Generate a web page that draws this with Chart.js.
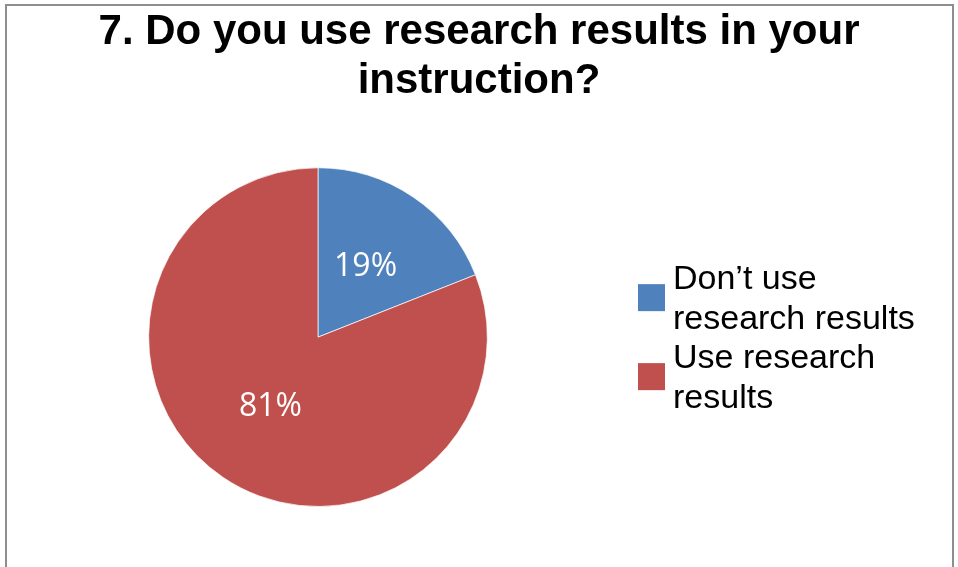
<!DOCTYPE html>
<html lang="en">
<head>
<meta charset="UTF-8" />
<title>7. Do you use research results in your instruction?</title>
<script src="https://cdn.jsdelivr.net/npm/chart.js"></script>
<style>
  html, body { margin: 0; padding: 0; background: #fff; }
  .wrap { position: relative; width: 958px; height: 567px; overflow: hidden; }
  .frame { position: absolute; left: 5px; top: 4px; width: 945px; height: 620px; border: 2px solid #8e8e8e; pointer-events: none; }
  canvas { position: absolute; left: 0; top: 0; }
</style>
</head>
<body>
<div class="wrap">
  <canvas id="pieChart" width="958" height="567"></canvas>
  <div class="frame"></div>
</div>

<script>
// Data
const titleLines = ['7. Do you use research results in your', 'instruction?'];
const categories = [['Don’t use', 'research results'], ['Use research', 'results']];
const shares = [19, 81];
const sliceColors = ['#4F81BD', '#C0504D'];

// Legend on the right, kept as its own layout box so the title stays centred on the whole canvas
function drawLegend(chart, box) {
  const ctx = chart.ctx;
  const lineH = 39.5;
  const boxSize = 27;
  const ds = chart.data.datasets[0];
  const items = chart.data.labels.map(l => Array.isArray(l) ? l : [l]);
  const totalH = items.reduce((n, l) => n + l.length, 0) * lineH;
  const area = chart.chartArea;
  let y = (area.top + area.bottom) / 2 - totalH / 2 + 2;

  ctx.save();
  ctx.font = '34px "Liberation Sans", Arial, sans-serif';
  ctx.textBaseline = 'middle';
  ctx.textAlign = 'left';
  items.forEach((lines, i) => {
    const h = lines.length * lineH;
    ctx.fillStyle = ds.backgroundColor[i];
    ctx.fillRect(box.left + 2, y + h / 2 - boxSize / 2 - 2, boxSize, boxSize);
    ctx.fillStyle = '#000';
    lines.forEach((t, k) => ctx.fillText(t, box.left + 37, y + lineH * (k + 0.5)));
    y += h;
  });
  ctx.restore();
}

const sideLegend = {
  id: 'sideLegend',
  beforeInit(chart) {
    const box = {
      position: 'right',
      weight: 10,
      fullSize: false,
      options: {},
      left: 0, top: 0, right: 0, bottom: 0, width: 0, height: 0,
      isHorizontal() { return false; },
      update(maxWidth, maxHeight) { this.width = 322; this.height = maxHeight; },
      getPadding() { return { top: 0, left: 0, bottom: 0, right: 0 }; },
      draw() { drawLegend(chart, this); }
    };
    Chart.layouts.addBox(chart, box);
  }
};

// Percent labels inside the slices
const sliceLabels = {
  id: 'sliceLabels',
  afterDatasetsDraw(chart) {
    const ctx = chart.ctx;
    const values = chart.data.datasets[0].data;
    const sum = values.reduce((a, b) => a + b, 0);
    ctx.save();
    ctx.font = '32px "Open Sans", sans-serif';
    ctx.fillStyle = '#ffffff';
    ctx.textAlign = 'center';
    ctx.textBaseline = 'middle';
    chart.getDatasetMeta(0).data.forEach((arc, i) => {
      const p = arc.tooltipPosition();
      ctx.fillText(Math.round(values[i] / sum * 100) + '%', p.x, p.y);
    });
    ctx.restore();
  }
};

new Chart(document.getElementById('pieChart').getContext('2d'), {
  type: 'pie',
  data: {
    labels: categories,
    datasets: [{
      data: shares,
      backgroundColor: sliceColors,
      borderColor: 'rgba(255,255,255,0.7)',
      borderWidth: 1
    }]
  },
  options: {
    responsive: false,
    animation: false,
    layout: { padding: { top: 0, left: 0, right: 0, bottom: 60 } },
    plugins: {
      legend: { display: false },
      tooltip: { enabled: false },
      title: {
        display: true,
        text: titleLines,
        color: '#000',
        font: { family: '"Liberation Sans", Arial, sans-serif', size: 42, weight: 'bold', lineHeight: 1.17 },
        padding: { top: 8, bottom: 61 }
      }
    }
  },
  plugins: [sideLegend, sliceLabels]
});
</script>
</body>
</html>
